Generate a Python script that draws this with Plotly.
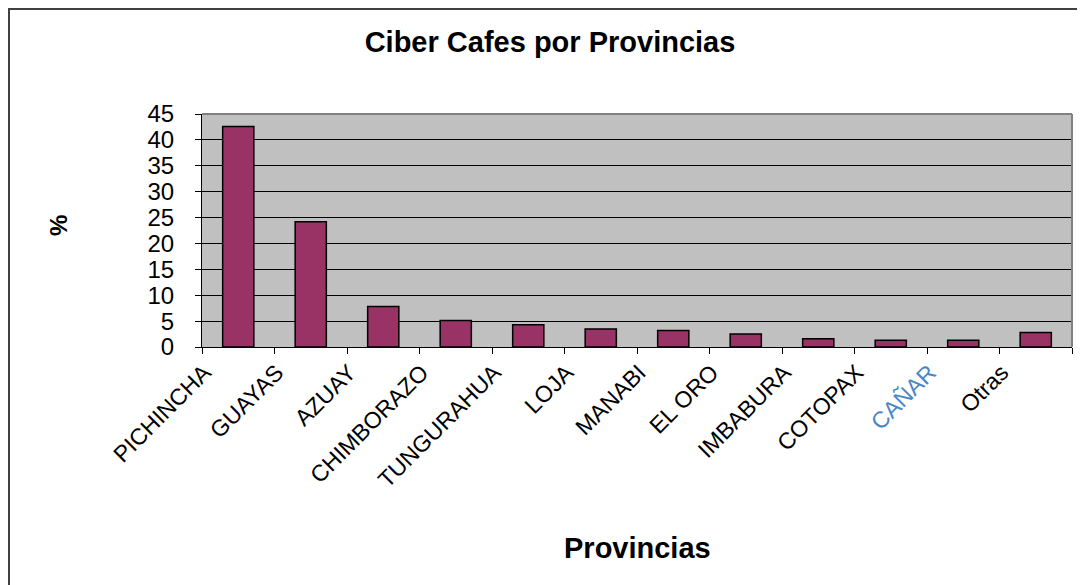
import plotly.graph_objects as go

categories = ["PICHINCHA", "GUAYAS", "AZUAY", "CHIMBORAZO", "TUNGURAHUA", "LOJA",
              "MANABI", "EL ORO", "IMBABURA", "COTOPAX", "CAÑAR", "Otras"]
values = [42.6, 24.2, 7.8, 5.1, 4.3, 3.5, 3.2, 2.5, 1.6, 1.3, 1.3, 2.8]
tick_text = [c if c != "CAÑAR" else "<span style='color:#4a86c5'>CAÑAR</span>" for c in categories]
y_ticks = list(range(0, 50, 5))

OFF = 8  # page body margin
W, H = 1085 - OFF, 585 - OFF
# plot area in page pixels: x 202..1072, y 114..347
L = 202 - OFF
R = W - (1072 - OFF)
T = 114 - OFF
B = H - (347 - OFF)
pw, ph = W - L - R, H - T - B

FONT = "Liberation Sans, Arial, sans-serif"


def px_x(p):
    return (p - OFF - L) / pw


def px_y(p):
    return (347 - p) / ph


fig = go.Figure(go.Bar(
    x=categories, y=values,
    marker=dict(color="#993366", line=dict(color="black", width=1.5)),
))

fig.update_layout(
    width=W, height=H,
    margin=dict(l=L, r=R, t=T, b=B, pad=0),
    paper_bgcolor="white", plot_bgcolor="#C0C0C0",
    bargap=0.57,
    showlegend=False,
    font=dict(family=FONT, color="black"),
    title=dict(text="<b>Ciber Cafes por Provincias</b>", x=(550 - OFF) / W, xanchor="center",
               y=1 - (42 - OFF) / H, yanchor="middle", yref="container",
               font=dict(size=29, family=FONT, color="black")),
    xaxis=dict(
        tickmode="array", tickvals=categories, ticktext=tick_text,
        tickangle=-45, tickfont=dict(size=23, family=FONT),
        ticks="outside", tickson="boundaries", ticklen=6, tickcolor="black",
        showline=True, linecolor="black", linewidth=1,
        showgrid=False, ticklabelshift=-34, ticklabelstandoff=2,
    ),
    yaxis=dict(
        range=[0, 45], tickmode="array", tickvals=y_ticks,
        tickfont=dict(size=24, family=FONT),
        ticks="outside", ticklen=6, tickcolor="black",
        showline=True, linecolor="black", linewidth=1,
        showgrid=True, gridcolor="black", gridwidth=1,
        zeroline=False, ticklabelstandoff=16,
    ),
    annotations=[
        dict(text="<b>Provincias</b>", xref="paper", yref="paper",
             x=px_x(637), y=px_y(548), xanchor="center", yanchor="middle",
             showarrow=False, font=dict(size=29, family=FONT, color="black")),
        dict(text="<b>%</b>", xref="paper", yref="paper",
             x=px_x(58), y=px_y(226), xanchor="center", yanchor="middle",
             showarrow=False, textangle=-90, font=dict(size=24, family=FONT, color="black")),
    ],
    shapes=[
        dict(type="line", xref="paper", yref="paper", x0=0, x1=1, y0=1, y1=1,
             line=dict(color="#808080", width=2)),
        dict(type="line", xref="paper", yref="paper", x0=1, x1=1, y0=0, y1=1,
             line=dict(color="#808080", width=2)),
        dict(type="rect", xref="paper", yref="paper",
             x0=px_x(OFF + 1), x1=px_x(1085 + 20), y0=px_y(585 + 20), y1=px_y(OFF + 1),
             line=dict(color="#404040", width=2), layer="above"),
    ],
)

fig.write_html("out.html")
